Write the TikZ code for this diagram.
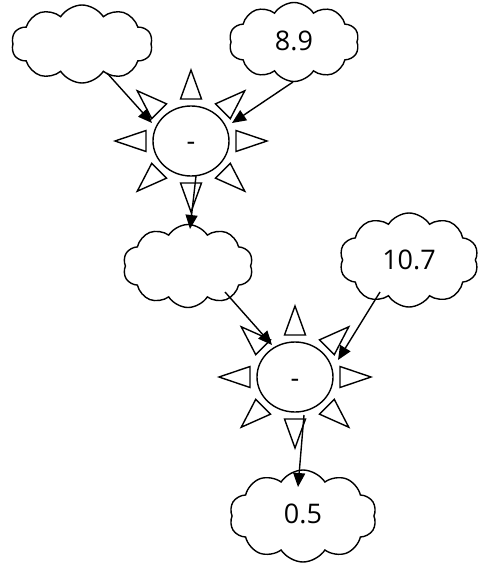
\documentclass[tikz,border=0pt]{standalone}
\usepackage{fontspec}
\setmainfont{Open Sans}
\usetikzlibrary{shapes.symbols,shapes.geometric,arrows.meta,calc}

\tikzset{
  x=1pt, y=-1pt,
  every node/.style={font=\fontsize{27}{32}\selectfont},
  puff/.style={cloud, draw, line width=1.4pt, cloud puffs=10, cloud puff arc=115,
               inner sep=0pt, aspect=1.7},
  sunbody/.style={ellipse, draw, line width=1.4pt, minimum width=76pt,
                  minimum height=70pt, inner sep=0pt},
  sunray/.style={draw, line width=1.4pt, line join=miter},
  link/.style={line width=1.4pt, -{Triangle[length=14pt,width=12pt]}},
}

% ellipse with eight triangular rays around it
\newcommand{\sunrays}[1]{%
  \foreach \a in {0,45,...,315} {
    \draw[sunray] ($(#1)+(\a:45 and 42)+(\a+90:10.5)$)
      -- ($(#1)+(\a:76 and 71)$)
      -- ($(#1)+(\a:45 and 42)+(\a-90:10.5)$) -- cycle;
  }%
}

\begin{document}
\begin{tikzpicture}
\useasboundingbox (0,0) rectangle (481,564);

% clouds
\node[puff, minimum width=141pt, minimum height=78pt] (A) at (82,44) {};
\node[puff, minimum width=130pt, minimum height=79pt] (B) at (294,42) {\raisebox{2pt}{8.9}\hspace{12pt}};
\node[puff, minimum width=130pt, minimum height=83pt] (C) at (188,266) {};
\node[puff, minimum width=139pt, minimum height=94pt] (D) at (409,260) {10.7};
\node[puff, minimum width=147pt, minimum height=92pt] (E) at (303,516) {\raisebox{5pt}{0.5}\hspace{6pt}};

% operator suns
\node[sunbody] (S1) at (191,141) {\smash{\raisebox{-10pt}{-}}};
\node[sunbody] (S2) at (295,377) {\smash{\raisebox{-10pt}{-}}};
\sunrays{S1}
\sunrays{S2}

% connectors
\draw[link] ($(A)+(25,29)$) -- ($(S1)+(-39,-18)$);
\draw[link] ($(B)+(-1,40)$) -- ($(S1)+(41,-18)$);
\draw[link] ($(S1)+(5,35)$) -- ($(C)+(2,-37)$);
\draw[link] ($(C)+(37,26)$) -- ($(S2)+(-23,-32)$);
\draw[link] ($(D)+(-29,32)$) -- ($(S2)+(43,-17)$);
\draw[link] ($(S2)+(9,38)$) -- ($(E)+(-5,-29)$);
\end{tikzpicture}
\end{document}
